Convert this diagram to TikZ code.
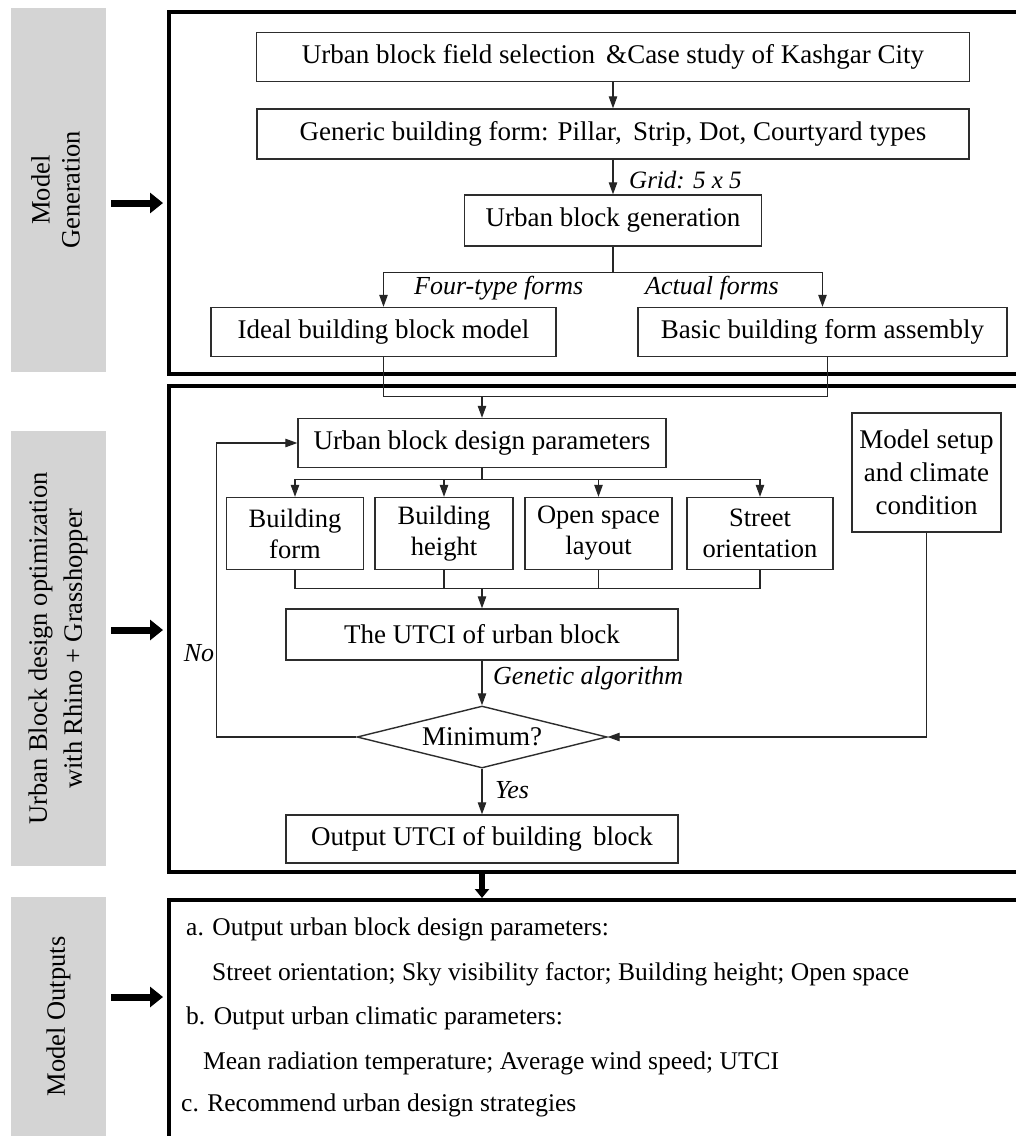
\documentclass[tikz,border=0pt]{standalone}
\usepackage{fontspec}
\setmainfont{Liberation Serif}
\usetikzlibrary{arrows.meta,shapes.geometric,calc}
\definecolor{panelgray}{RGB}{212,212,212}
\definecolor{boxline}{RGB}{45,45,45}
\begin{document}
\begin{tikzpicture}[x=1pt,y=-1pt,
  every node/.style={font=\fontsize{27}{31}\selectfont},
  box/.style={draw=boxline,line width=1.4pt,rectangle,inner sep=0pt,align=center},
  pbox/.style={box,font=\fontsize{26.5}{31}\selectfont},
  panel/.style={fill=panelgray,inner sep=0pt,align=center,font=\fontsize{26.5}{30}\selectfont},
  outer/.style={draw=black,line width=3.5pt,anchor=north west,inner sep=0pt},
  conn/.style={line width=1.1pt,draw=black!85},
  arr/.style={conn,-{Triangle[length=12pt,width=8.5pt]}},
  fat/.style={line width=7pt,-{Triangle[length=13pt,width=20pt]}},
  fatv/.style={line width=6pt,-{Triangle[length=9pt,width=14pt]}},
  lab/.style={font=\fontsize{26}{30}\selectfont\itshape,inner sep=0pt},
  txt/.style={anchor=west,inner sep=0pt,font=\fontsize{25.5}{30}\selectfont}
]
\clip (0,0) rectangle (1016,1136);
\fill[white] (0,0) rectangle (1016,1136);

% left panels
\node[panel,minimum width=95pt,minimum height=364pt] (G1) at (58.5,190)
  {\rotatebox{90}{\begin{tabular}{@{}c@{}}Model\\Generation\end{tabular}}};
\node[panel,minimum width=95pt,minimum height=435pt] (G2) at (58.5,648.5)
  {\rotatebox{90}{\begin{tabular}{@{}c@{}}Urban Block design optimization\\[5pt]with Rhino + Grasshopper\end{tabular}}};
\node[panel,minimum width=95pt,minimum height=239pt] (G3) at (58.5,1016.5)
  {\rotatebox{90}{Model Outputs}};

% outer frames
\node[outer,minimum width=880pt,minimum height=362pt] (A) at (167,10) {};
\node[outer,minimum width=880pt,minimum height=486pt] (B) at (167,384) {};
\node[outer,minimum width=880pt,minimum height=270pt] (C) at (167,898) {};

% fat arrows
\draw[fat] ($(G1.east)+(5,13)$) -- ($(G1.east -| A.west)+(-4,13)$);
\draw[fat] ($(G2.east)+(5,-18.5)$) -- ($(G2.east -| B.west)+(-4,-18.5)$);
\draw[fat] ($(G3.east)+(5,-19.5)$) -- ($(G3.east -| C.west)+(-4,-19.5)$);

% top section
\node[box,minimum width=713pt,minimum height=49pt] (N1) at (613,57)
  {Urban block field selection \,\&Case study of Kashgar City};
\node[box,minimum width=712pt,minimum height=50pt] (N2) at (613,134)
  {Generic building form: Pillar, \,Strip, Dot, Courtyard types};
\node[box,minimum width=297pt,minimum height=51pt] (N3) at (613,220.5)
  {Urban block generation};
\node[box,minimum width=345pt,minimum height=49pt] (N4) at (383.5,332)
  {Ideal building block model};
\node[box,minimum width=369pt,minimum height=49pt] (N5) at (822.5,332)
  {Basic building form assembly};

\draw[arr] (N1.south) -- (N2.north);
\draw[arr] (N2.south) -- (N3.north);
\node[lab,anchor=west,font=\fontsize{25}{29}\selectfont\itshape] (gl) at (629,180) {Grid: 5 x 5};
\path (N3.south) ++(0,26) coordinate (br);
\draw[conn] (N3.south) -- (br);
\draw[arr] (br) -| (N4.north);
\draw[arr] (br) -| (N5.north);
\node[lab,anchor=west] (fl) at (414,288) {Four-type forms};
\node[lab,anchor=west] (al) at (645,288) {Actual forms};

% middle section
\node[box,minimum width=368pt,minimum height=49pt] (N6) at (482,443)
  {Urban block design parameters};
\path (N6.north) ++(0,-21.5) coordinate (mg);
\draw[conn] (N4.south) |- (mg);
\draw[conn] ($(N5.south)+(5,0)$) |- (mg);
\draw[arr] (mg) -- (N6.north);

\node[pbox,minimum width=137pt,minimum height=72pt] (B1) at (295,533.5)
  {Building\\form};
\node[pbox,minimum width=138pt,minimum height=72pt] (B2) at (444,533.5)
  {Building\\height};
\node[pbox,minimum width=147pt,minimum height=72pt] (B3) at (598.5,533.5)
  {Open space\\layout};
\node[pbox,minimum width=146pt,minimum height=72pt] (B4) at (760,533.5)
  {Street\\orientation};
\node[box,minimum width=149pt,minimum height=119pt,font=\fontsize{27}{33}\selectfont] (M) at (926.5,472.5)
  {Model setup\\and climate\\condition};

\path (N6.south) ++(0,11.5) coordinate (sp);
\draw[conn] (N6.south) -- (sp);
\draw[arr] (sp) -| (B1.north);
\draw[arr] (sp) -| (B2.north);
\draw[arr] (sp) -| (B3.north);
\draw[arr] (sp) -| (B4.north);

\node[box,minimum width=392pt,minimum height=51pt] (N7) at (482,634.5)
  {The UTCI of urban block};
\path (N7.north) ++(0,-19.5) coordinate (jn);
\draw[conn] (B1.south) |- (jn);
\draw[conn] (B4.south) |- (jn);
\draw[conn] (B2.south) -- (B2.south |- jn);
\draw[conn] (B3.south) -- (B3.south |- jn);
\draw[arr] (jn) -- (N7.north);

\node[draw=boxline,line width=1.4pt,diamond,aspect=4,inner sep=0pt,minimum width=250pt,minimum height=62pt] (D) at (482,737)
  {Minimum?};
\draw[arr] (N7.south) -- (D.north);
\node[lab,anchor=west] (ga) at (493,678) {Genetic algorithm};
\draw[arr] (M.south) |- (D.east);
\draw[arr] (D.west) -- ++(-140,0) |- (N6.west);
\node[lab] (no) at (199,653) {No};

\node[box,minimum width=392pt,minimum height=48pt] (N8) at (482,839)
  {Output UTCI of building \,block};
\draw[arr] (D.south) -- (N8.north);
\node[lab,anchor=west] (ys) at (495,790) {Yes};

\draw[fatv] (N8.south |- B.south) -- (N8.south |- C.north);

% bottom text
\node[txt] (t1) at (186,929) {a. Output urban block design parameters:};
\node[txt] (t2) at (212,974) {Street orientation; Sky visibility factor; Building height; Open space};
\node[txt] (t3) at (186,1018) {b. Output urban climatic parameters:};
\node[txt] (t4) at (203,1063) {Mean radiation temperature; Average wind speed; UTCI};
\node[txt] (t5) at (181,1105) {c. Recommend urban design strategies};
\end{tikzpicture}
\end{document}
